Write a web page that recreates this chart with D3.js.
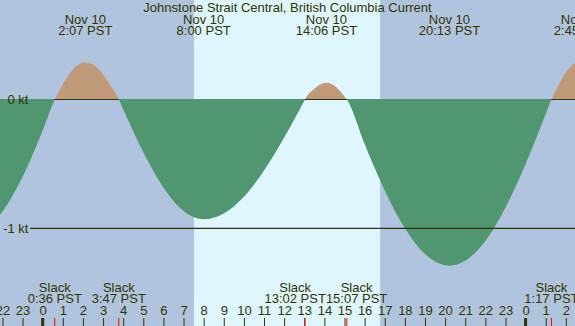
<!DOCTYPE html>
<html><head><meta charset="utf-8">
<script src="https://cdn.jsdelivr.net/npm/d3@7"></script>
<style>html,body{margin:0;padding:0;background:#b0c4de;overflow:hidden}svg{display:block}</style>
</head><body><svg id="c" width="575" height="326"></svg>
<script>
// Hours relative to Nov 10 00:00 PST; speeds in knots
const times  = [-3, -2, -1, 0, 0.6, 1, 1.5, 2, 2.117, 2.5, 3, 3.5, 3.783, 4, 5, 6, 7, 8, 9, 10, 11, 12, 13, 13.033, 13.5, 14, 14.1, 14.5, 15, 15.117, 16, 17, 18, 19, 20, 20.217, 21, 22, 23, 24, 25, 25.283, 25.5, 26, 26.5, 26.75, 27];
const speeds = [-1.02, -0.87, -0.60, -0.24, 0, 0.117, 0.233, 0.288, 0.29, 0.271, 0.195, 0.076, 0, -0.075, -0.407, -0.684, -0.866, -0.93, -0.885, -0.755, -0.551, -0.295, -0.01, 0, 0.083, 0.129, 0.13, 0.106, 0.023, 0, -0.346, -0.707, -1.0, -1.2, -1.287, -1.29, -1.252, -1.098, -0.839, -0.5, -0.113, 0, 0.069, 0.208, 0.289, 0.30, 0.29];

const extremeTimes  = [2.117, 8.0, 14.1, 20.217, 26.75];
const extremeDates  = ["Nov 10", "Nov 10", "Nov 10", "Nov 10", "Nov 11"];
const extremeLabels = ["2:07 PST", "8:00 PST", "14:06 PST", "20:13 PST", "2:45 PST"];

const slackTimes  = [0.6, 3.783, 13.033, 15.117, 25.283];
const slackLabels = ["0:36 PST", "3:47 PST", "13:02 PST", "15:07 PST", "1:17 PST"];

const sunrise = 7.52, sunset = 16.77;
const hourTicks = d3.range(-2, 27);
const midnights = [0, 24];
const levelTicks = [0, -1];
const levelLabels = ["0 kt", "-1 kt"];
const title = "Johnstone Strait Central, British Columbia Current";

const W = 575, H = 326;
const ink = "#333300";
const font = "'Liberation Sans', Arial, sans-serif";
const fs = 13;
const svg = d3.select("#c");
const x = d3.scaleLinear().domain([-2.122, 26.456]).range([0, W]);
const y = d3.scaleLinear().domain([0, -1]).range([99.5, 228.3]);
const data = times.map((t, i) => ({t, v: speeds[i]}));
const base = Math.floor(y(0));

svg.append("rect").attr("width", W).attr("height", H).attr("fill", "#b0c4de");
svg.append("rect").attr("x", x(sunrise)).attr("y", 0).attr("width", x(sunset) - x(sunrise)).attr("height", H).attr("fill", "#ddf6ff");

const defs = svg.append("defs");
defs.append("clipPath").attr("id", "above").append("rect").attr("x", 0).attr("y", 0).attr("width", W).attr("height", base);
defs.append("clipPath").attr("id", "below").append("rect").attr("x", 0).attr("y", base).attr("width", W).attr("height", H - base);

const area = d3.area().x(d => x(d.t)).y0(base).y1(d => y(d.v)).curve(d3.curveMonotoneX);
svg.append("path").datum(data).attr("d", area).attr("fill", "#c09a78").attr("clip-path", "url(#above)");
// zero line (hidden under ebb fill)
svg.append("line").attr("x1", 30).attr("x2", W).attr("y1", base + 0.5).attr("y2", base + 0.5).attr("stroke", ink).attr("stroke-width", 1.2);
svg.append("path").datum(data).attr("d", area).attr("fill", "#509670").attr("clip-path", "url(#below)");
// -1 kt line
svg.append("line").attr("x1", 30).attr("x2", W).attr("y1", y(-1)).attr("y2", y(-1)).attr("stroke", ink).attr("stroke-width", 1.3);

svg.selectAll(".lvl").data(levelTicks).enter().append("text")
  .attr("x", 28.5).attr("y", d => y(d)).attr("dy", "0.35em").attr("text-anchor", "end")
  .attr("font-family", font).attr("font-size", fs).attr("fill", ink).text((d, i) => levelLabels[i]);

svg.append("text").attr("x", W / 2).attr("y", 12).attr("text-anchor", "middle")
  .attr("font-family", font).attr("font-size", fs).attr("fill", ink).text(title);

const ex = svg.selectAll(".ex").data(extremeTimes).enter().append("g");
ex.append("text").attr("x", d => x(d)).attr("y", 23.5).attr("text-anchor", "middle")
  .attr("font-family", font).attr("font-size", fs).attr("fill", ink).text((d, i) => extremeDates[i]);
ex.append("text").attr("x", d => x(d)).attr("y", 35).attr("text-anchor", "middle")
  .attr("font-family", font).attr("font-size", fs).attr("fill", ink).text((d, i) => extremeLabels[i]);

// slack labels, pushed apart where they would collide
const sl = svg.selectAll(".sl").data(slackTimes).enter().append("g");
const slWord = sl.append("text").attr("y", 292).attr("text-anchor", "middle")
  .attr("font-family", font).attr("font-size", fs).attr("fill", ink).text("Slack");
const slTime = sl.append("text").attr("y", 303).attr("text-anchor", "middle")
  .attr("font-family", font).attr("font-size", fs).attr("fill", ink).text((d, i) => slackLabels[i]);
const widths = slTime.nodes().map(n => n.getComputedTextLength());
const cx = slackTimes.map(t => x(t));
for (let i = 0; i < cx.length - 1; i++) {
  const overlap = (cx[i] + widths[i] / 2) - (cx[i + 1] - widths[i + 1] / 2);
  if (overlap > 0) { cx[i] -= overlap / 2; cx[i + 1] += overlap / 2; }
}
slWord.attr("x", (d, i) => cx[i]);
slTime.attr("x", (d, i) => cx[i]);

const axis = d3.axisTop(x).tickValues(hourTicks).tickSize(8).tickPadding(3)
  .tickFormat(h => String(((h % 24) + 24) % 24));
const ax = svg.append("g").attr("transform", `translate(0,${H})`).call(axis);
ax.select(".domain").remove();
ax.selectAll("line").attr("stroke", ink).attr("stroke-width", 1);
ax.selectAll("text").attr("font-family", font).attr("font-size", fs).attr("fill", ink);

svg.selectAll(".mid").data(midnights).enter().append("rect")
  .attr("x", d => x(d) - 1.5).attr("y", H - 8).attr("width", 3).attr("height", 8).attr("fill", ink);
svg.selectAll(".st").data(slackTimes).enter().append("line")
  .attr("x1", d => x(d)).attr("x2", d => x(d)).attr("y1", H - 8).attr("y2", H)
  .attr("stroke", "#ff0000").attr("stroke-width", 1);
</script></body></html>
